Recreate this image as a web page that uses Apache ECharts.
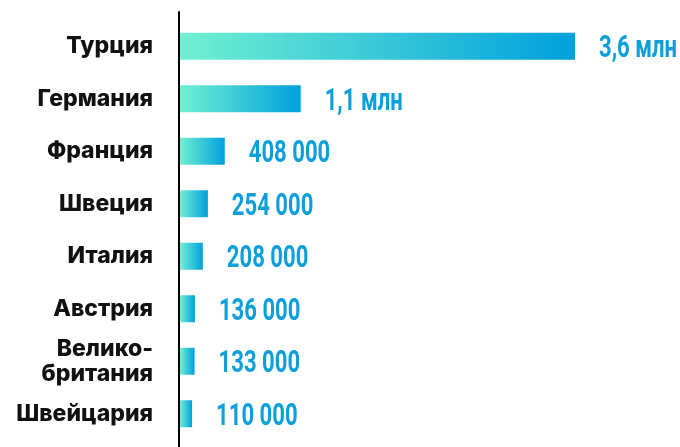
<!DOCTYPE html>
<html>
<head>
<meta charset="utf-8">
<script src="https://cdn.jsdelivr.net/npm/echarts@6/dist/echarts.min.js"></script>
<style>
  html, body { margin: 0; padding: 0; background: #fff; }
  #chart { width: 680px; height: 447px; }
</style>
</head>
<body>
<div id="chart"></div>
<script>
// countries, top to bottom
var countries = ['Турция', 'Германия', 'Франция', 'Швеция', 'Италия', 'Австрия', 'Велико-\nбритания', 'Швейцария'];
var values = [3600000, 1100000, 408000, 254000, 208000, 136000, 133000, 110000];
var valueLabels = ['3,6 млн', '1,1 млн', '408 000', '254 000', '208 000', '136 000', '133 000', '110 000'];

var chart = echarts.init(document.getElementById('chart'));

// [value, category index] pairs for the label layer
var labelData = values.map(function (v, i) { return [v, i]; });

chart.setOption({
    animation: false,
    grid: [
        { left: 180, right: 105, top: 20, bottom: 7 },
        // only there to draw the long vertical axis line
        { left: 179, width: 10, top: 12, bottom: 0 }
    ],
    xAxis: [
        { type: 'value', gridIndex: 0, min: 0, max: 3600000, show: false },
        { type: 'value', gridIndex: 1, show: false }
    ],
    yAxis: [
        {
            type: 'category',
            gridIndex: 0,
            inverse: true,
            data: countries,
            axisLine: { show: false },
            axisTick: { show: false },
            axisLabel: {
                margin: 27,
                color: '#111',
                fontFamily: 'Inter',
                fontWeight: 800,
                fontSize: 23,
                lineHeight: 25
            }
        },
        {
            type: 'category',
            gridIndex: 1,
            data: ['-'],
            axisLine: { show: true, lineStyle: { color: '#000', width: 2 } },
            axisTick: { show: false },
            axisLabel: { show: false }
        }
    ],
    series: [{
        type: 'bar',
        xAxisIndex: 0,
        yAxisIndex: 0,
        data: values,
        barWidth: 27,
        itemStyle: {
            color: new echarts.graphic.LinearGradient(0, 0, 1, 0, [
                { offset: 0, color: '#70f0d2' },
                { offset: 1, color: '#00a0dd' }
            ])
        }
    }, {
        // condensed value labels to the right of each bar
        type: 'custom',
        xAxisIndex: 0,
        yAxisIndex: 0,
        data: labelData,
        encode: { x: 0, y: 1 },
        renderItem: function (params, api) {
            var p = api.coord([api.value(0), api.value(1)]);
            return {
                type: 'text',
                x: p[0] + 24,
                y: p[1] + 3,
                scaleX: 0.69,
                style: {
                    text: valueLabels[params.dataIndex],
                    fill: '#0c9fda',
                    font: 'bold 32px Roboto',
                    verticalAlign: 'middle',
                    align: 'left'
                }
            };
        }
    }]
});
</script>
</body>
</html>
